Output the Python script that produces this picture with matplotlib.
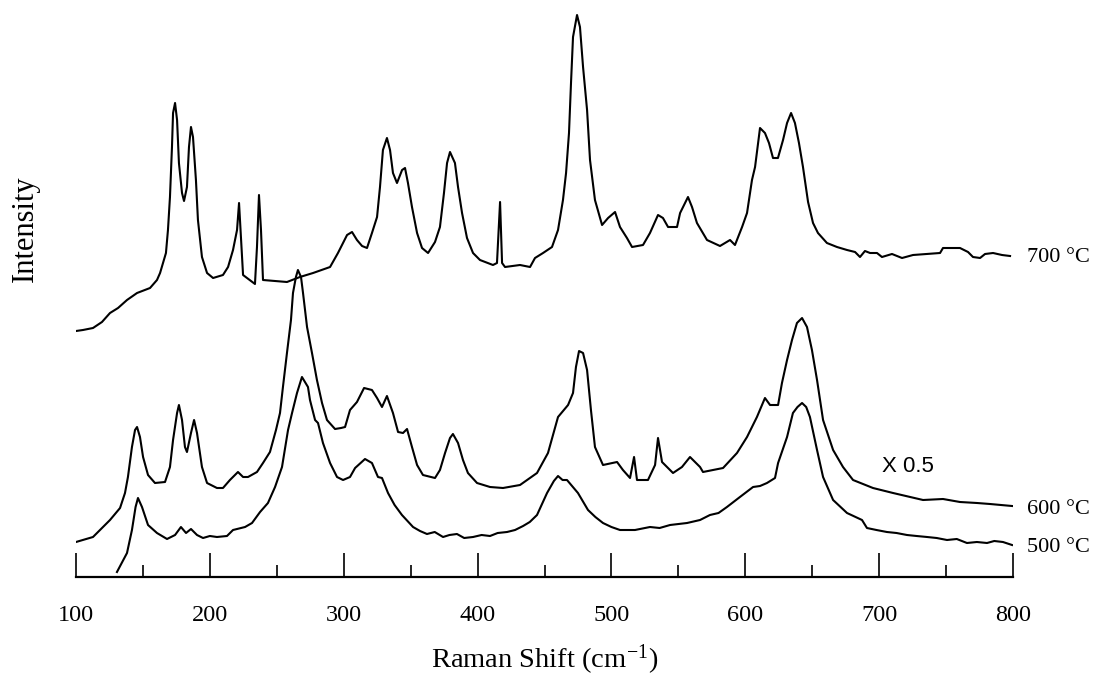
import matplotlib
matplotlib.use("Agg")
import matplotlib.pyplot as plt
from matplotlib.ticker import MultipleLocator

plt.rcParams["font.family"] = ["Liberation Serif", "DejaVu Serif"]
plt.rcParams["mathtext.fontset"] = "stix"

# Raman spectra (intensity in arbitrary units, stacking offsets included)
shift_700 = [100, 105.2, 112.7, 119.4, 125.4, 131.4, 138.1, 145.6, 155.3, 160.5, 162.8, 167.2,
             168.7, 170.2, 171.7, 172.5, 174.0, 175.5, 176.9, 179.2, 180.7, 182.9, 184.4, 185.9,
             187.4, 189.6, 191.1, 194.1, 197.9, 202.4, 209.8, 213.6, 217.3, 220.3, 221.8, 223.3,
             224.8, 233.7, 235.2, 236.7, 238.2, 239.7, 257.6, 267.3, 277.1, 289.8, 295.7, 299.5,
             302.5, 306.2, 309.9, 313.7, 317.4, 321.1, 324.9, 327.1, 329.3, 332.3, 334.6, 336.8,
             339.8, 343.6, 345.8, 348.0, 351.0, 354.8, 358.5, 363.0, 368.2, 371.9, 374.9, 377.2,
             379.4, 383.1, 385.4, 388.4, 392.1, 396.6, 401.8, 411.5, 414.5, 416.8, 418.3, 420.5,
             431.7, 439.2, 442.9, 448.9, 455.6, 460.1, 463.8, 466.1, 468.3, 469.8, 471.3, 474.3,
             476.5, 478.8, 481.8, 484.0, 487.7, 493.0, 497.5, 502.7, 506.4, 511.6, 515.4, 523.6,
             528.8, 534.8, 538.5, 542.3, 549.0, 551.3, 557.2, 560.2, 563.9, 571.4, 581.1, 588.6,
             592.3, 597.6, 601.3, 605.0, 607.3, 611.0, 614.7, 617.7, 620.7, 624.4, 628.2, 631.2,
             634.2, 637.1, 640.1, 643.1, 646.9, 650.6, 654.3, 661.0, 668.5, 676.0, 682.0, 685.7,
             689.4, 693.2, 698.4, 702.1, 709.6, 717.1, 725.3, 735.8, 745.5, 747.7, 760.4, 766.4,
             770.1, 775.4, 779.1, 785.1, 791.8, 797.8]
inten_700 = [246, 247, 249, 255, 264, 269, 277, 284, 289, 297, 304, 324,
             347, 380, 430, 464, 474, 457, 414, 384, 376, 390, 430, 450,
             440, 397, 357, 320, 304, 299, 302, 310, 327, 347, 374, 337,
             302, 293, 330, 382, 347, 297, 295, 300, 304, 310, 324, 334,
             342, 345, 337, 331, 329, 344, 360, 390, 427, 439, 427, 404,
             394, 407, 409, 394, 370, 344, 329, 324, 335, 350, 384, 414,
             425, 414, 390, 364, 339, 324, 317, 312, 314, 375, 314, 310,
             312, 310, 319, 324, 330, 347, 377, 404, 444, 494, 540, 562,
             550, 510, 467, 417, 377, 352, 359, 365, 350, 339, 330, 332,
             344, 362, 359, 350, 350, 364, 380, 370, 354, 337, 331, 337,
             332, 350, 364, 397, 410, 449, 444, 434, 419, 419, 437, 454,
             464, 454, 434, 410, 375, 354, 344, 334, 330, 327, 325, 320,
             326, 324, 324, 320, 323, 319, 322, 323, 324, 329, 329, 325,
             320, 319, 323, 324, 322, 321]

shift_600 = [100, 112.7, 125.4, 132.9, 136.6, 138.8, 141.8, 144.1, 145.6, 147.8, 150.1, 153.8,
             159.0, 166.5, 170.2, 172.5, 175.5, 176.9, 179.2, 181.4, 182.9, 185.9, 188.2, 190.4,
             194.1, 197.9, 205.3, 209.8, 215.0, 221.0, 224.8, 228.5, 235.2, 239.7, 244.9, 249.4,
             252.4, 254.6, 257.6, 260.6, 262.1, 264.3, 265.8, 268.1, 269.6, 272.6, 276.3, 280.0,
             283.8, 287.5, 293.5, 298.0, 301.0, 304.7, 309.9, 315.2, 321.1, 324.9, 328.6, 332.3,
             336.8, 340.6, 344.3, 347.3, 351.0, 354.8, 359.2, 368.2, 371.9, 375.7, 379.4, 381.6,
             385.4, 389.1, 392.8, 399.6, 409.3, 419.0, 431.7, 444.4, 452.6, 460.1, 467.6, 471.3,
             473.5, 475.8, 478.8, 481.8, 484.7, 487.7, 493.7, 504.2, 508.6, 513.9, 516.9, 519.1,
             527.3, 532.6, 534.8, 537.8, 546.0, 552.7, 558.7, 566.2, 568.4, 583.4, 593.8, 601.3,
             608.7, 614.7, 618.5, 624.5, 627.4, 631.2, 634.9, 638.6, 642.4, 646.1, 649.8, 653.6,
             658.1, 665.6, 673.0, 680.5, 695.4, 710.4, 723.0, 732.8, 747.7, 760.4, 773.1, 782.8,
             799.3]
inten_600 = [35, 40, 57, 69, 84, 100, 130, 147, 150, 140, 120, 102,
             94, 95, 110, 137, 164, 172, 157, 130, 125, 144, 157, 144,
             110, 94, 89, 89, 97, 105, 100, 100, 105, 114, 125, 147,
             164, 190, 224, 257, 284, 300, 307, 300, 284, 250, 224, 197,
             174, 157, 148, 149, 150, 167, 175, 189, 187, 179, 170, 181,
             164, 145, 144, 148, 130, 112, 102, 99, 107, 124, 139, 143,
             134, 117, 104, 94, 90, 89, 92, 104, 124, 160, 172, 184,
             210, 226, 224, 207, 167, 130, 112, 115, 107, 99, 120, 97,
             97, 112, 139, 115, 104, 110, 120, 110, 105, 109, 124, 140,
             160, 179, 172, 172, 194, 217, 237, 254, 259, 250, 227, 197,
             157, 127, 110, 97, 89, 84, 80, 77, 78, 75, 74, 73,
             71]

shift_500 = [130.6, 138.1, 141.8, 144.5, 146.3, 149.3, 153.8, 160.5, 168.0, 174.0, 178.4, 182.2,
             185.9, 190.4, 194.9, 200.0, 205.3, 212.8, 217.3, 226.3, 231.5, 237.5, 243.4, 248.7,
             253.9, 258.4, 261.4, 265.1, 268.8, 273.3, 274.8, 278.6, 280.8, 284.5, 289.8, 295.0,
             299.5, 304.7, 308.5, 315.9, 321.1, 325.6, 328.6, 333.1, 338.0, 343.5, 351.8, 357.0,
             362.2, 368.0, 374.2, 379.0, 384.6, 390.0, 396.6, 403.0, 409.3, 415.0, 422.0, 428.0,
             434.0, 439.0, 444.4, 451.9, 457.0, 460.1, 463.5, 466.8, 475.0, 482.5, 488.0, 493.7,
             500.0, 506.4, 517.6, 528.8, 536.0, 543.8, 556.5, 566.2, 573.6, 580.0, 586.3, 596.0,
             605.8, 611.0, 616.2, 622.2, 624.5, 631.2, 635.6, 639.0, 642.4, 645.5, 648.3, 653.6,
             658.1, 665.6, 676.0, 687.2, 690.9, 698.0, 705.8, 713.0, 720.8, 728.0, 735.8, 743.0,
             750.7, 758.0, 765.6, 773.0, 780.6, 786.0, 792.5, 799.3]
inten_500 = [5, 24, 47, 70, 79, 70, 52, 44, 38, 42, 50, 44,
             48, 42, 39, 41, 40, 41, 47, 50, 54, 65, 74, 90,
             110, 147, 164, 184, 200, 190, 177, 157, 154, 134, 114, 100,
             97, 100, 109, 118, 114, 100, 99, 84, 72, 62, 50, 46,
             43, 45, 40, 42, 43, 39, 40, 42, 41, 44, 45, 47,
             51, 55, 62, 84, 96, 101, 97, 97, 84, 67, 60, 54,
             50, 47, 47, 50, 49, 52, 54, 57, 62, 64, 70, 80,
             90, 91, 94, 99, 114, 140, 164, 170, 174, 170, 160, 127,
             100, 77, 64, 57, 49, 47, 45, 44, 42, 41, 40, 39,
             37, 38, 34, 35, 34, 36, 35, 32]

series_labels = ["700 °C", "600 °C", "500 °C"]
label_y = [319, 67, 29]

fig = plt.figure(figsize=(10.95, 6.76), dpi=100)
ax = fig.add_axes([76 / 1095, 99 / 676, 937 / 1095, 577 / 676])

for xs, ys in [(shift_700, inten_700), (shift_600, inten_600), (shift_500, inten_500)]:
    ax.plot(xs, ys, color="black", linewidth=1.5, solid_joinstyle="round")

ax.set_xlim(100, 800)
ax.set_ylim(0, 577)

for side in ["left", "top", "right"]:
    ax.spines[side].set_visible(False)
ax.spines["bottom"].set_linewidth(1.6)
ax.set_yticks([])

ax.xaxis.set_major_locator(MultipleLocator(100))
ax.xaxis.set_minor_locator(MultipleLocator(50))
ax.tick_params(axis="x", which="major", direction="in", length=17, width=1.2,
               labelsize=17.5, pad=20)
ax.tick_params(axis="x", which="minor", direction="in", length=8.5, width=1.2)

ax.set_xlabel("Raman Shift (cm$^{\\mathregular{-1}}$)", fontsize=20.5, labelpad=12)
fig.text(25 / 1095, 1 - 229 / 676, "Intensity", rotation=90, fontsize=22,
         ha="center", va="center")

for lab, yv in zip(series_labels, label_y):
    ax.text(810.5, yv, lab, fontsize=16, ha="left", va="center", clip_on=False)
ax.text(702.1, 111, "X 0.5", fontsize=16, family=["Liberation Sans", "DejaVu Sans"],
        ha="left", va="center")

fig.savefig("out.png", dpi=100)
